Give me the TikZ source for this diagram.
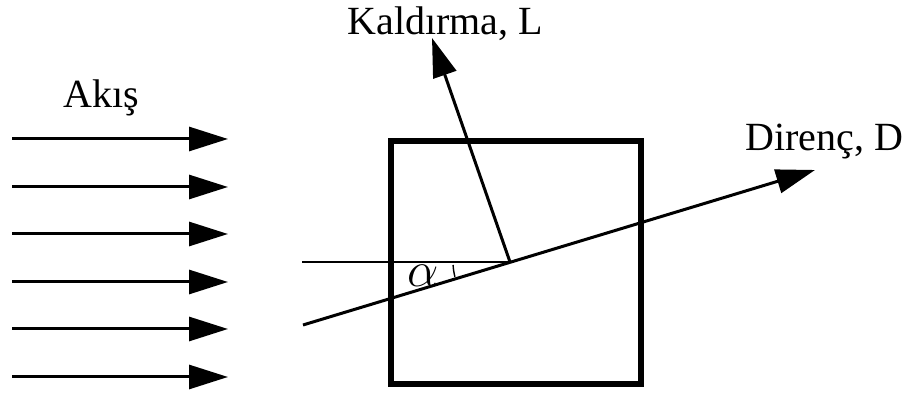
\documentclass[tikz,border=0pt]{standalone}
\usepackage{fontspec}
\setmainfont{Liberation Serif}
\usetikzlibrary{arrows.meta}
\begin{document}
\begin{tikzpicture}[x=0.5pt,y=-0.5pt,
  arr/.style={line width=1.5pt,-{Triangle[length=19.5pt,width=12pt]}},
  thin line/.style={line width=1.4pt},
  lbl/.style={inner sep=0pt,anchor=base west,font=\fontsize{20}{24}\selectfont}]
\useasboundingbox (0,0) rectangle (905,394);
% flow arrows
\foreach \i/\y in {1/139,2/187,3/234,4/282,5/329,6/377}{
  \coordinate (fs\i) at (12,\y);
  \coordinate (fe\i) at (228,\y);
  \draw[arr] (fs\i) -- (fe\i);
}
\node[lbl] (akis) at (63,108) {Akış};
% body
\node[draw,line width=3pt,minimum width=125pt,minimum height=121.5pt,inner sep=0pt] (box) at (516,262.5) {};
% force lines
\coordinate (P) at (510,262);
\coordinate (hs) at (302,262);
\coordinate (ds) at (303,325);
\coordinate (dt) at (815,170);
\coordinate (lt) at (432,38);
\draw[thin line] (hs) -- (P);
\draw[arr] (ds) -- (dt);
\draw[arr] (P) -- (lt);
\draw[line width=0.7pt] ([shift={(165:57)}]P) arc[start angle=165,end angle=177,radius=57];
\node[lbl,font=\fontsize{25}{30}\selectfont] (alpha) at (407,287) {$\alpha$};
\node[lbl] (lift) at (347,35) {Kaldırma, L};
\node[lbl] (drag) at (745,151) {Direnç, D};
\end{tikzpicture}
\end{document}
